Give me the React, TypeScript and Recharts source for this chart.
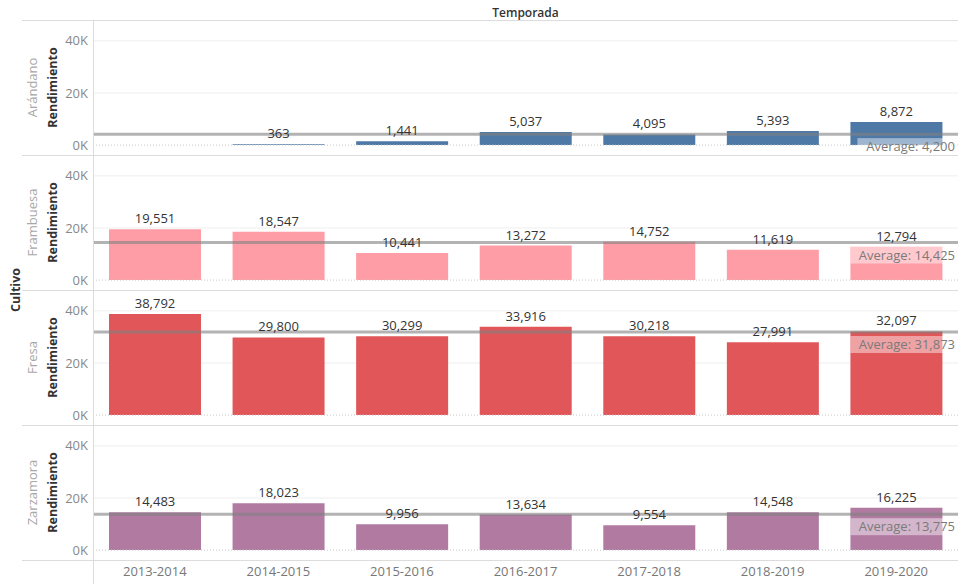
import { BarChart, Bar, XAxis, YAxis, CartesianGrid, ReferenceLine, LabelList } from "recharts"

const SEASONS = ["2013-2014", "2014-2015", "2015-2016", "2016-2017", "2017-2018", "2018-2019", "2019-2020"]
const CROPS = ["Arándano", "Frambuesa", "Fresa", "Zarzamora"]

// Rendimiento por temporada (null = sin dato)
const ARANDANO = [null, 363, 1441, 5037, 4095, 5393, 8872]
const FRAMBUESA = [19551, 18547, 10441, 13272, 14752, 11619, 12794]
const FRESA = [38792, 29800, 30299, 33916, 30218, 27991, 32097]
const ZARZAMORA = [14483, 18023, 9956, 13634, 9554, 14548, 16225]

const SERIES = [ARANDANO, FRAMBUESA, FRESA, ZARZAMORA]
const COLORS = ["#4e79a7", "#ff9da7", "#e15759", "#b07aa1"]
const Y_TICKS = [0, 20000, 40000]

const FONT = "'Open Sans', sans-serif"
const W = 958
const TOP = 20
const ROW_H = 135
const AXIS_W = 93
const X_AXIS_H = 23

const fmt = (v: number) => v.toLocaleString("en-US")

function mean(values: (number | null)[]) {
  const nums = values.filter((v): v is number => v != null)
  return nums.reduce((a, b) => a + b, 0) / nums.length
}

// Títulos rotados a la izquierda: nombre del cultivo + "Rendimiento"
const rowTitle = (name: string) => (props: any) => {
  const { viewBox } = props
  const cy = viewBox.y + viewBox.height / 2
  return (
    <g>
      <text
        transform={`translate(32, ${cy}) rotate(-90)`}
        textAnchor="middle"
        dominantBaseline="central"
        fill="#a8a8a8"
        fontSize={13}
        fontFamily={FONT}
      >
        {name}
      </text>
      <text
        transform={`translate(52, ${cy}) rotate(-90)`}
        textAnchor="middle"
        dominantBaseline="central"
        fill="#333"
        fontSize={12.5}
        fontWeight="bold"
        fontFamily={FONT}
      >
        Rendimiento
      </text>
    </g>
  )
}

const avgLabel = (avg: number) => (props: any) => {
  const { viewBox } = props
  const text = `Average: ${fmt(Math.round(avg))}`
  const right = viewBox.x + viewBox.width
  const boxW = text.length * 6.9 + 4
  return (
    <g>
      <rect x={right - boxW} y={viewBox.y + 4} width={boxW} height={17} fill="#fff" fillOpacity={0.45} />
      <text x={right - 3} y={viewBox.y + 17} textAnchor="end" fill="#7a7a7a" fontSize={13} fontFamily={FONT}>
        {text}
      </text>
    </g>
  )
}

function CropRow({ index }: { index: number }) {
  const values = SERIES[index]
  const data = SEASONS.map((season, i) => ({ season, value: values[i] }))
  const avg = mean(values)
  const isLast = index === SERIES.length - 1

  return (
    <BarChart
      width={W}
      height={isLast ? ROW_H + X_AXIS_H : ROW_H}
      data={data}
      margin={{ top: 0, right: 0, bottom: 0, left: 0 }}
      barSize={92}
    >
      <CartesianGrid vertical={false} horizontalValues={[20000, 40000]} stroke="#eeeeee" />
      <XAxis
        dataKey="season"
        hide={!isLast}
        height={X_AXIS_H}
        interval={0}
        axisLine={false}
        tickLine={false}
        tickSize={0}
        tickMargin={7}
        tick={{ fill: "#777", fontSize: 13, fontFamily: FONT }}
      />
      <YAxis
        width={AXIS_W}
        domain={[-3800, 48000]}
        ticks={Y_TICKS}
        allowDataOverflow
        tickFormatter={(v: number) => `${v / 1000}K`}
        axisLine={false}
        tickLine={false}
        tickSize={0}
        tickMargin={5}
        tick={{ fill: "#888", fontSize: 13, fontFamily: FONT }}
        label={{ content: rowTitle(CROPS[index]) }}
      />
      <ReferenceLine y={0} stroke="#c8c8c8" strokeDasharray="1 2" />
      <Bar dataKey="value" fill={COLORS[index]} isAnimationActive={false}>
        <LabelList
          dataKey="value"
          position="top"
          offset={6}
          fill="#333"
          fontSize={13}
          fontFamily={FONT}
          formatter={(v: any) => (v == null ? "" : fmt(v))}
        />
      </Bar>
      <ReferenceLine
        y={avg}
        stroke="#808080"
        strokeOpacity={0.6}
        strokeWidth={3}
        label={{ content: avgLabel(avg) }}
      />
    </BarChart>
  )
}

export default function App() {
  return (
    <div style={{ position: "absolute", left: 0, top: 0, width: W, height: 584, background: "#fff", fontFamily: FONT }}>
      <div
        style={{
          position: "absolute",
          left: AXIS_W,
          width: W - AXIS_W,
          top: 4,
          textAlign: "center",
          fontSize: 12,
          fontWeight: 600,
          color: "#333",
        }}
      >
        Temporada
      </div>
      <div
        style={{
          position: "absolute",
          left: 15,
          top: TOP + (ROW_H * 4) / 2,
          transform: "translate(-50%, -50%) rotate(-90deg)",
          fontSize: 12.5,
          fontWeight: "bold",
          color: "#333",
        }}
      >
        Cultivo
      </div>
      {CROPS.map((crop, i) => (
        <div key={crop} style={{ position: "absolute", left: 0, top: TOP + i * ROW_H }}>
          <CropRow index={i} />
        </div>
      ))}
      {[0, 1, 2, 3, 4].map((i) => (
        <div
          key={`sep-${i}`}
          style={{ position: "absolute", left: 22, width: W - 22, top: TOP + i * ROW_H, height: 1, background: "#dcdcdc" }}
        />
      ))}
      <div style={{ position: "absolute", left: AXIS_W, top: TOP, width: 1, height: 584 - TOP, background: "#dcdcdc" }} />
    </div>
  )
}
